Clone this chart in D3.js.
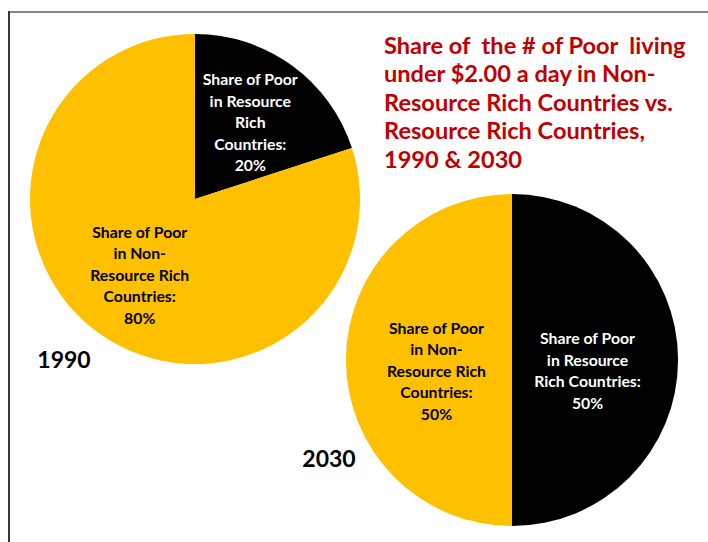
<!DOCTYPE html>
<html>
<head>
<meta charset="utf-8">
<script src="https://cdn.jsdelivr.net/npm/d3@7"></script>
<style>
  body { margin: 0; background: #fff; }
  svg text { font-family: Lato, "Open Sans", sans-serif; font-weight: bold; }
</style>
</head>
<body>
<div id="chart"></div>
<script>
// Chart data
const years = ["1990", "2030"];
const categories = ["Resource Rich", "Non-Resource Rich"];
const shares1990 = [20, 80];
const shares2030 = [50, 50];
const labels1990 = [
    ["Share of Poor", "in Resource", "Rich", "Countries:", "20%"],
    ["Share of Poor", "in Non-", "Resource Rich", "Countries:", "80%"]
];
const labels2030 = [
    ["Share of Poor", "in Resource", "Rich Countries:", "50%"],
    ["Share of Poor", "in Non-", "Resource Rich", "Countries:", "50%"]
];
const titleLines = [
    "Share of  the # of Poor  living",
    "under $2.00 a day in Non-",
    "Resource Rich Countries vs.",
    "Resource Rich Countries,",
    "1990 & 2030"
];

const width = 708;
const height = 542;

const svg = d3.select("#chart")
    .append("svg")
    .attr("width", width)
    .attr("height", height);

// frame lines
svg.append("line")
    .attr("x1", 9).attr("x2", width)
    .attr("y1", 12).attr("y2", 12)
    .attr("stroke", "#858585").attr("stroke-width", 2);
svg.append("line")
    .attr("x1", 9).attr("x2", 9)
    .attr("y1", 11).attr("y2", height)
    .attr("stroke", "#3a3a3a").attr("stroke-width", 2);

const color = d3.scaleOrdinal()
    .domain(categories)
    .range(["#000000", "#FFC000"]);
const textColor = d3.scaleOrdinal()
    .domain(categories)
    .range(["#ffffff", "#000000"]);

const pie = d3.pie().sort(null).value(d => d.value);

// layout of each pie (center, radius, label placement)
const pies = [
    { year: years[0], values: shares1990, labels: labels1990, cx: 195, cy: 199, r: 165, labelR: 0.57, labelDy: 0, yearX: 64, yearY: 368 },
    { year: years[1], values: shares2030, labels: labels2030, cx: 512, cy: 360, r: 166, labelR: 0.455, labelDy: 11, yearX: 329, yearY: 467 }
];

const lineH = 21.5;

pies.forEach(p => {
    const data = categories.map((c, i) => ({ category: c, value: p.values[i], lines: p.labels[i] }));
    const arcs = pie(data);
    const arc = d3.arc().innerRadius(0).outerRadius(p.r);
    const labelArc = d3.arc().innerRadius(p.r * p.labelR).outerRadius(p.r * p.labelR);

    const g = svg.append("g")
        .attr("transform", `translate(${p.cx},${p.cy})`);

    g.selectAll("path")
        .data(arcs)
        .enter()
        .append("path")
        .attr("d", arc)
        .attr("fill", d => color(d.data.category));

    const lbl = g.selectAll("text.slice")
        .data(arcs)
        .enter()
        .append("text")
        .attr("class", "slice")
        .attr("text-anchor", "middle")
        .attr("font-size", "15.8px")
        .attr("fill", d => textColor(d.data.category))
        .attr("transform", d => {
            const c = labelArc.centroid(d);
            return `translate(${c[0]},${c[1] + p.labelDy})`;
        });

    lbl.each(function(d) {
        const n = d.data.lines.length;
        d3.select(this).selectAll("tspan")
            .data(d.data.lines)
            .enter()
            .append("tspan")
            .attr("x", 0)
            .attr("y", (t, i) => (i - (n - 1) / 2) * lineH + 5.5)
            .text(t => t);
    });

    // year label
    svg.append("text")
        .attr("x", p.yearX)
        .attr("y", p.yearY)
        .attr("text-anchor", "middle")
        .attr("font-size", "23px")
        .attr("fill", "#000")
        .text(p.year);
});

// title
svg.append("text")
    .attr("font-size", "23.6px")
    .attr("fill", "#C00000")
    .style("white-space", "pre")
    .selectAll("tspan")
    .data(titleLines)
    .enter()
    .append("tspan")
    .attr("x", 384)
    .attr("y", (d, i) => 54 + i * 28.4)
    .text(d => d);
</script>
</body>
</html>
